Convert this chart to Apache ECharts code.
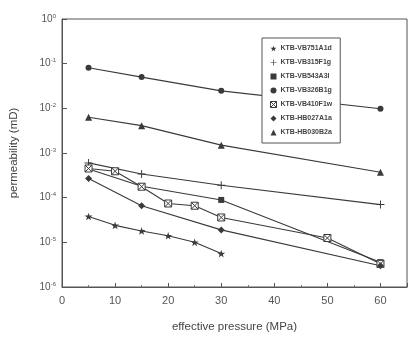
<!DOCTYPE html>
<html>
<head>
<meta charset="utf-8">
<script src="https://cdn.jsdelivr.net/npm/echarts@6/dist/echarts.min.js"></script>
<style>
  html, body { margin: 0; padding: 0; background: #fff; }
  #chart { width: 410px; height: 338px; }
</style>
</head>
<body>
<div id="chart"></div>
<script>
// series names in legend order
const names = ['KTB-VB751A1d', 'KTB-VB315F1g', 'KTB-VB543A3l', 'KTB-VB326B1g', 'KTB-VB410F1w', 'KTB-HB027A1a', 'KTB-HB030B2a'];

// effective pressure (MPa) and permeability (mD) per sample
const p751 = [5, 10, 15, 20, 25, 30];
const k751 = [3.8e-5, 2.4e-5, 1.8e-5, 1.4e-5, 1.0e-5, 5.6e-6];
const p315 = [5, 15, 30, 60];
const k315 = [6.0e-4, 3.4e-4, 1.9e-4, 7.0e-5];
const p543 = [5, 15, 30, 60];
const k543 = [4.4e-4, 1.8e-4, 8.9e-5, 3.6e-6];
const p326 = [5, 15, 30, 60];
const k326 = [0.081, 0.050, 0.0246, 0.0098];
const p410 = [5, 10, 15, 20, 25, 30, 50, 60];
const k410 = [4.5e-4, 3.9e-4, 1.76e-4, 7.4e-5, 6.6e-5, 3.6e-5, 1.25e-5, 3.3e-6];
const p027 = [5, 15, 30, 60];
const k027 = [2.7e-4, 6.6e-5, 1.9e-5, 3.0e-6];
const p030 = [5, 15, 30, 60];
const k030 = [0.0063, 0.0041, 0.0015, 0.00037];

const xTicks = [0, 10, 20, 30, 40, 50, 60];
const yExp = [0, -1, -2, -3, -4, -5, -6];

const ink = '#3a3a3a';
const star = 'path://M5,0L6.2,3.6L10,3.6L7,5.9L8.1,9.5L5,7.3L1.9,9.5L3,5.9L0,3.6L3.8,3.6Z';
const plus = 'path://M4.4,0H5.6V10H4.4Z M0,4.4H10V5.6H0Z';
const boxX = 'path://M0,0L10,0L10,10L0,10Z M0,0L10,10 M10,0L0,10';
const icons = [star, plus, 'rect', 'circle', boxX, 'diamond', 'triangle'];
const boxStyle = { color: '#fff', borderColor: ink, borderWidth: 1 };

function pairs(xs, ys) { return xs.map((x, i) => [x, ys[i]]); }

function mk(i, xs, ys, size, extra) {
  return {
    name: names[i],
    type: 'line',
    data: pairs(xs, ys),
    symbol: icons[i],
    symbolSize: size,
    symbolKeepAspect: true,
    showAllSymbol: true,
    lineStyle: { color: ink, width: 1.1 },
    itemStyle: Object.assign({ color: ink }, extra || {}),
    emphasis: { disabled: true },
    z: 3
  };
}

const chart = echarts.init(document.getElementById('chart'));
chart.setOption({
  animation: false,
  backgroundColor: '#fff',
  grid: { left: 58, right: 1, top: 19, bottom: 45, show: true, borderColor: '#555', borderWidth: 1 },
  legend: {
    orient: 'vertical',
    left: 262, top: 38,
    width: 81,
    padding: [7, 8, 7, 8],
    borderColor: '#555', borderWidth: 1,
    backgroundColor: '#fff',
    itemWidth: 6, itemHeight: 6, itemGap: 7,
    textStyle: { fontSize: 7, color: '#444', fontFamily: 'Liberation Sans', fontWeight: 'bold', padding: [0, 0, 0, -1] },
    data: names.map((n, i) => ({
      name: n,
      icon: icons[i],
      itemStyle: i === 4 ? boxStyle : { color: ink, borderWidth: 0 }
    })),
    z: 10
  },
  xAxis: {
    type: 'value',
    min: 0, max: 65, interval: 10,
    axisLine: { lineStyle: { color: '#555' } },
    axisTick: { inside: true, length: 4, lineStyle: { color: '#555' } },
    minorTick: { show: true, splitNumber: 2, length: 2, lineStyle: { color: '#777' } },
    splitLine: { show: false },
    axisLabel: {
      margin: 8, color: '#555', fontSize: 11, fontFamily: 'Liberation Sans',
      formatter: v => (xTicks.indexOf(v) >= 0 ? String(v) : '')
    },
    name: 'effective pressure (MPa)',
    nameLocation: 'middle', nameGap: 34,
    nameTextStyle: { color: '#444', fontSize: 11.5, fontFamily: 'Liberation Sans' }
  },
  yAxis: {
    type: 'log',
    logBase: 10,
    min: 1e-6, max: 1,
    axisLine: { lineStyle: { color: '#555' } },
    axisTick: { inside: true, length: 5, lineStyle: { color: '#555' } },
    splitLine: { show: false },
    axisLabel: {
      margin: 6, color: '#555',
      formatter: v => {
        const e = Math.round(Math.log10(v));
        return yExp.indexOf(e) >= 0 ? '{b|10}{s|' + e + '}' : '';
      },
      rich: {
        b: { fontSize: 10, fontFamily: 'Liberation Sans', color: '#555' },
        s: { fontSize: 6, fontFamily: 'Liberation Sans', color: '#555', verticalAlign: 'top', padding: [0, 0, 6, 0] }
      }
    },
    name: 'permeability (mD)',
    nameLocation: 'middle', nameGap: 42,
    nameTextStyle: { color: '#444', fontSize: 11.5, fontFamily: 'Liberation Sans' }
  },
  series: [
    mk(0, p751, k751, 8),
    mk(1, p315, k315, 8),
    mk(2, p543, k543, 6),
    mk(3, p326, k326, 6),
    mk(4, p410, k410, 7, boxStyle),
    mk(5, p027, k027, 7),
    mk(6, p030, k030, 7)
  ]
});
</script>
</body>
</html>
